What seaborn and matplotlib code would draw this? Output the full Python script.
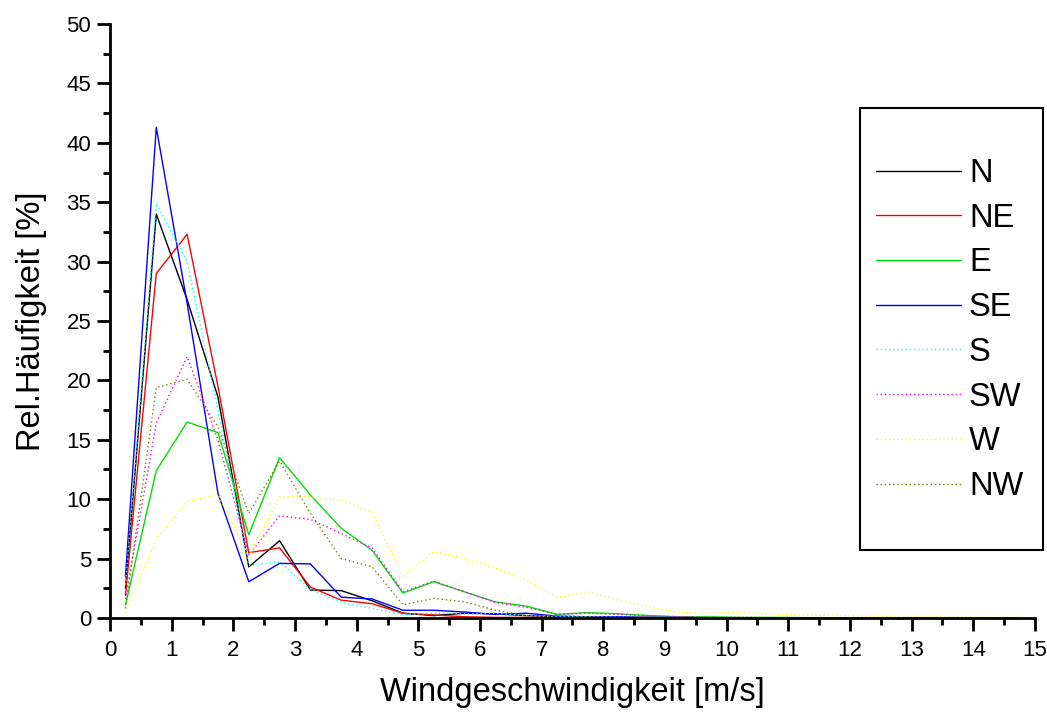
import numpy as np
import pandas as pd
import matplotlib
matplotlib.use("Agg")
import matplotlib.pyplot as plt
from matplotlib.patches import Rectangle
import seaborn as sns

speed = [0.25 + 0.5 * i for i in range(30)]
directions = ["N", "NE", "E", "SE", "S", "SW", "W", "NW"]

N = [2.5, 34.0, 26.8, 18.6, 4.3, 6.5, 2.35, 2.3, 1.45, 0.4, 0.2, 0.4, 0.35, 0.2, 0.1,
     0.1, 0.05, 0.05, 0.05, 0.02, 0.02, 0.01, 0.01, 0.0, 0.0, 0.0, 0.0, 0.0, 0.0, 0.0]
NE = [1.9, 29.0, 32.3, 19.5, 5.5, 5.9, 2.6, 1.5, 1.2, 0.4, 0.25, 0.1, 0.05, 0.05, 0.05,
      0.05, 0.02, 0.02, 0.01, 0.01, 0.0, 0.0, 0.0, 0.0, 0.0, 0.0, 0.0, 0.0, 0.0, 0.0]
E = [1.1, 12.4, 16.5, 15.6, 7.0, 13.5, 10.35, 7.55, 5.7, 2.1, 3.05, 2.2, 1.35, 1.0, 0.3,
     0.45, 0.35, 0.2, 0.1, 0.1, 0.05, 0.05, 0.03, 0.02, 0.02, 0.01, 0.01, 0.0, 0.0, 0.0]
SE = [3.5, 41.3, 26.5, 10.5, 3.05, 4.6, 4.55, 1.75, 1.6, 0.65, 0.65, 0.5, 0.3, 0.4, 0.15,
      0.1, 0.1, 0.05, 0.05, 0.02, 0.02, 0.01, 0.01, 0.0, 0.0, 0.0, 0.0, 0.0, 0.0, 0.0]
S = [2.8, 34.9, 30.0, 17.5, 4.45, 4.7, 2.4, 1.3, 0.8, 0.3, 0.4, 0.35, 0.4, 0.2, 0.1,
     0.1, 0.05, 0.05, 0.03, 0.02, 0.02, 0.01, 0.01, 0.0, 0.0, 0.0, 0.0, 0.0, 0.0, 0.0]
SW = [1.6, 16.4, 22.0, 15.0, 5.3, 8.6, 8.3, 7.1, 5.9, 2.2, 3.1, 2.2, 1.3, 0.9, 0.3,
      0.4, 0.3, 0.15, 0.1, 0.05, 0.05, 0.03, 0.02, 0.02, 0.01, 0.01, 0.0, 0.0, 0.0, 0.0]
W = [0.4, 6.6, 9.8, 10.4, 5.2, 10.2, 10.2, 9.9, 8.9, 3.5, 5.6, 5.0, 4.2, 3.2, 1.7,
     2.2, 1.5, 0.9, 0.45, 0.4, 0.5, 0.35, 0.25, 0.2, 0.15, 0.1, 0.1, 0.1, 0.05, 0.05]
NW = [0.8, 19.4, 20.1, 16.1, 8.8, 13.2, 8.8, 5.0, 4.3, 1.1, 1.65, 1.35, 0.65, 0.2, 0.2,
      0.1, 0.05, 0.05, 0.03, 0.02, 0.02, 0.01, 0.01, 0.0, 0.0, 0.0, 0.0, 0.0, 0.0, 0.0]

series = {"N": N, "NE": NE, "E": E, "SE": SE, "S": S, "SW": SW, "W": W, "NW": NW}
df = pd.concat(
    [pd.DataFrame({"speed": speed, "freq": vals, "dir": name}) for name, vals in series.items()],
    ignore_index=True,
)

palette = {"N": "#000000", "NE": "#FF0000", "E": "#00E000", "SE": "#0000FF",
           "S": "#00FFFF", "SW": "#FF00FF", "W": "#FFFF00", "NW": "#808000"}
dashes = {"N": "", "NE": "", "E": "", "SE": "",
          "S": (1, 2), "SW": (1, 2), "W": (1, 2), "NW": (1, 2)}

sns.set_style("white")
plt.rcParams["font.family"] = ["Liberation Sans", "DejaVu Sans"]
plt.rcParams["text.color"] = "black"
plt.rcParams["axes.labelcolor"] = "black"
plt.rcParams["xtick.color"] = "black"
plt.rcParams["ytick.color"] = "black"

fig = plt.figure(figsize=(10.47, 7.15), dpi=100)
ax = fig.add_axes([0.1051, 0.1357, 0.8834, 0.8307])

sns.lineplot(data=df, x="speed", y="freq", hue="dir", style="dir",
             hue_order=directions, style_order=directions,
             palette=palette, dashes=dashes, linewidth=1.0, ax=ax, legend=True)

ax.set_xlim(0, 15)
ax.set_ylim(0, 50)
ax.set_xticks(range(0, 16))
ax.set_xticks(np.arange(0.5, 15, 1.0), minor=True)
ax.set_yticks(range(0, 51, 5))
ax.set_yticks(np.arange(2.5, 50, 5), minor=True)
ax.tick_params(axis="both", which="major", direction="out", length=9.5, width=2,
               labelsize=16, color="black", labelcolor="black", bottom=True, left=True)
ax.tick_params(axis="x", which="major", pad=6)
ax.tick_params(axis="y", which="major", pad=4)
ax.tick_params(axis="both", which="minor", direction="out", length=5, width=2,
               color="black", bottom=True, left=True)
for side in ["top", "right"]:
    ax.spines[side].set_visible(False)
for side in ["left", "bottom"]:
    ax.spines[side].set_visible(True)
    ax.spines[side].set_color("black")
    ax.spines[side].set_linewidth(2)

ax.set_xlabel("Windgeschwindigkeit [m/s]", fontsize=23.5, labelpad=12, color="black")
ax.set_ylabel("Rel.Häufigkeit [%]", fontsize=23.5, labelpad=14, color="black")

handles, labels = ax.get_legend_handles_labels()
leg = ax.legend(handles, labels, loc="upper left", bbox_to_anchor=(876 / 1047, 1 - 158 / 715),
                bbox_transform=fig.transFigure, frameon=False, fontsize=23.5,
                handlelength=2.6, handletextpad=0.25, labelspacing=0.42, borderpad=0.0,
                borderaxespad=0.0)
for t in leg.get_texts():
    t.set_color("black")

fig.patches.append(Rectangle((860 / 1047, 1 - 550 / 715), 183 / 1047, 442 / 715,
                             transform=fig.transFigure, fill=False,
                             edgecolor="black", linewidth=1.5, zorder=5))

fig.savefig("out.png", dpi=100)
